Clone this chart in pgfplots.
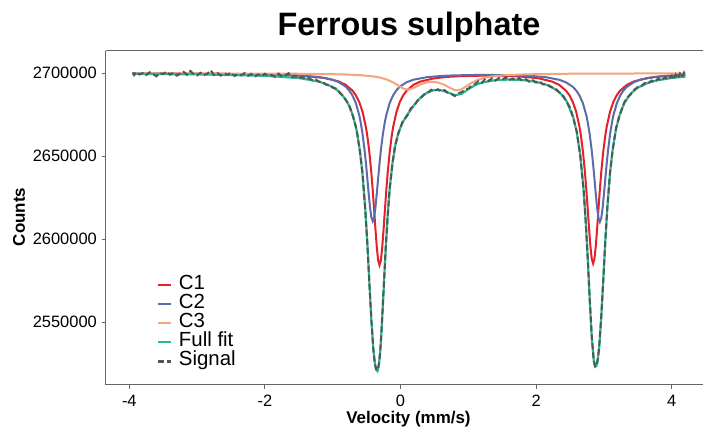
\documentclass[border=0pt]{standalone}
\usepackage{fontspec}
\setmainfont{Liberation Sans}
\usepackage{pgfplots}
\pgfplotsset{compat=1.18}
\definecolor{cone}{RGB}{230,32,40}
\definecolor{ctwo}{RGB}{92,108,170}
\definecolor{cthree}{RGB}{244,165,122}
\definecolor{cfull}{RGB}{35,187,150}
\definecolor{csig}{RGB}{85,85,85}
\definecolor{axgray}{RGB}{100,100,100}
\begin{document}
\begin{tikzpicture}
\path[use as bounding box] (-106bp,-43.5bp) rectangle (597bp,384.5bp);
\begin{axis}[
  at={(0bp,0bp)}, anchor=south west,
  scale only axis, width=597bp, height=333.5bp,
  xmin=-4.344, xmax=4.461, ymin=2512530, ymax=2713434,
  axis lines=left, axis line style={-, draw=axgray, line width=1bp},
  tick align=outside, major tick length=4bp,
  tick style={draw=axgray, line width=1bp},
  xtick={-4,-2,0,2,4}, ytick={2550000,2600000,2650000,2700000},
  scaled y ticks=false,
  /pgf/number format/assume math mode=true,
  yticklabel style={/pgf/number format/fixed, /pgf/number format/1000 sep={},
    font=\fontsize{16.5}{18}\selectfont, anchor=east, inner sep=0pt, xshift=-5bp},
  xticklabel style={font=\fontsize{16.5}{18}\selectfont, anchor=north, inner sep=0pt, yshift=-6bp},
  legend style={at={(0.085,0.328)}, anchor=north west, draw=none, fill=none,
    inner sep=0pt, outer sep=0pt, row sep=0pt,
    font=\fontsize{20.5}{19}\selectfont,
    nodes={inner sep=0pt, text height=14bp, text depth=5.2bp},
    /tikz/every odd column/.style={column sep=7bp}},
  legend image code/.code={\draw[#1, line width=2.2bp] (0bp,0bp) -- (13bp,0bp);},
  legend cell align=left,
]
% C1
\addplot[draw=cone, line width=2bp] coordinates {
(-3.95,2699825) (-3.0,2699699) (-2.0,2699296) (-1.5,2698646) (-1.11,2697139)
(-0.91,2695072) (-0.81,2693084) (-0.71,2689596) (-0.66,2686813) (-0.61,2682795)
(-0.56,2676782) (-0.51,2667444) (-0.49,2662309) (-0.46,2652567) (-0.43,2639803)
(-0.41,2629485) (-0.39,2617990) (-0.37,2606068) (-0.35,2595174) (-0.33,2587337)
(-0.31,2584451) (-0.29,2587335) (-0.27,2595170) (-0.25,2606062) (-0.23,2617982)
(-0.21,2629474) (-0.19,2639790) (-0.16,2652551) (-0.13,2662289) (-0.11,2667422)
(-0.06,2676755) (-0.01,2682762) (0.04,2686773) (0.09,2689549) (0.19,2693024)
(0.29,2694994) (0.49,2696930) (0.69,2697840) (0.89,2698294) (1.19,2698551)
(1.54,2698427) (1.84,2697851) (2.04,2696952) (2.24,2694964) (2.34,2693008)
(2.44,2689563) (2.49,2686811) (2.54,2682835) (2.59,2676880) (2.64,2667629)
(2.66,2662540) (2.69,2652889) (2.72,2640238) (2.74,2630013) (2.76,2618621)
(2.78,2606805) (2.80,2596008) (2.82,2588242) (2.84,2585384) (2.86,2588246)
(2.88,2596016) (2.90,2606817) (2.92,2618637) (2.94,2630033) (2.96,2640262)
(2.99,2652918) (3.02,2662576) (3.04,2667669) (3.09,2676928) (3.14,2682892)
(3.19,2686877) (3.24,2689638) (3.34,2693101) (3.44,2695076) (3.64,2697162)
(3.84,2698135) (4.0,2698590) (4.2,2698953)
};
\addlegendentry{C1}
% C2
\addplot[draw=ctwo, line width=2bp] coordinates {
(-3.95,2699860) (-3.0,2699753) (-2.0,2699396) (-1.6,2698961) (-1.21,2697801)
(-1.01,2696212) (-0.91,2694678) (-0.81,2691987) (-0.76,2689841) (-0.71,2686742)
(-0.66,2682104) (-0.61,2674902) (-0.59,2670940) (-0.56,2663428) (-0.53,2653583)
(-0.51,2645626) (-0.49,2636760) (-0.47,2627566) (-0.45,2619164) (-0.43,2613120)
(-0.41,2610894) (-0.39,2613118) (-0.37,2619161) (-0.35,2627562) (-0.33,2636754)
(-0.31,2645618) (-0.29,2653573) (-0.26,2663416) (-0.23,2670926) (-0.21,2674886)
(-0.16,2682083) (-0.11,2686717) (-0.06,2689811) (-0.01,2691953) (0.09,2694635)
(0.19,2696158) (0.39,2697667) (0.59,2698379) (0.79,2698744) (1.09,2698979)
(1.3,2699011) (1.64,2698852) (1.94,2698374) (2.14,2697658) (2.34,2696098)
(2.44,2694567) (2.54,2691875) (2.59,2689724) (2.64,2686616) (2.69,2681962)
(2.74,2674733) (2.76,2670755) (2.79,2663212) (2.82,2653326) (2.84,2645335)
(2.86,2636432) (2.88,2627198) (2.90,2618759) (2.92,2612690) (2.94,2610456)
(2.96,2612692) (2.98,2618763) (3.00,2627204) (3.02,2636440) (3.04,2645345)
(3.06,2653338) (3.09,2663227) (3.12,2670773) (3.14,2674753) (3.19,2681987)
(3.24,2686647) (3.29,2689760) (3.34,2691916) (3.44,2694620) (3.54,2696161)
(3.74,2697791) (3.94,2698552) (4.2,2699064)
};
\addlegendentry{C2}
% C3
\addplot[draw=cthree, line width=2bp] coordinates {
(-3.95,2699949) (-3.0,2699917) (-2.0,2699831) (-1.5,2699727) (-1.0,2699477)
(-0.8,2699265) (-0.6,2698887) (-0.4,2698112) (-0.3,2697391) (-0.2,2696225)
(-0.1,2694338) (0.0,2691768) (0.05,2690664) (0.1,2690163) (0.15,2690456)
(0.2,2691344) (0.3,2693416) (0.4,2694629) (0.47,2694842) (0.55,2694467)
(0.64,2693208) (0.74,2690980) (0.79,2690027) (0.84,2689707) (0.89,2690224)
(0.94,2691383) (1.04,2694081) (1.14,2696064) (1.24,2697287) (1.34,2698040)
(1.54,2698850) (1.84,2699368) (2.5,2699739) (3.2,2699862) (4.2,2699928)
};
\addlegendentry{C3}
% Full fit
\addplot[draw=cfull, line width=2.2bp] coordinates {
(-3.95,2699634) (-3.0,2699369) (-2.0,2698523) (-1.5,2697147) (-1.2,2695011)
(-1.0,2691788) (-0.9,2688784) (-0.8,2683712) (-0.75,2679758) (-0.7,2674190)
(-0.65,2666046) (-0.6,2653691) (-0.56,2639003) (-0.52,2618065) (-0.49,2597613)
(-0.46,2574157) (-0.43,2551202) (-0.40,2533438) (-0.38,2525745) (-0.36,2521405)
(-0.34,2520606) (-0.32,2524038) (-0.30,2532319) (-0.28,2545081) (-0.25,2569099)
(-0.22,2593360) (-0.19,2614044) (-0.16,2630217) (-0.12,2645707) (-0.08,2656103)
(-0.03,2664412) (0.03,2670374) (0.1,2675008) (0.2,2680899) (0.3,2685612)
(0.4,2688573) (0.5,2689888) (0.6,2689792) (0.7,2688392) (0.8,2686783)
(0.9,2687587) (1.0,2690416) (1.1,2692873) (1.2,2694430) (1.4,2695877)
(1.6,2696239) (1.8,2695943) (2.0,2694902) (2.2,2692456) (2.35,2688424)
(2.45,2683186) (2.55,2673118) (2.6,2664328) (2.65,2650837) (2.7,2629597)
(2.73,2611569) (2.76,2589195) (2.79,2564189) (2.82,2541394) (2.85,2526920)
(2.87,2523249) (2.89,2523782) (2.91,2527862) (2.93,2535315) (2.96,2552794)
(2.99,2575547) (3.02,2598861) (3.05,2619201) (3.09,2640007) (3.13,2654597)
(3.18,2666839) (3.23,2674886) (3.3,2682078) (3.4,2688004) (3.5,2691391)
(3.65,2694267) (3.8,2695878) (4.0,2697208) (4.2,2697945)
};
\addlegendentry{Full fit}
% Signal
\addplot[draw=csig, line width=2bp, dash pattern=on 6bp off 3bp] coordinates {
(-3.95,2700500) (-3.93,2698900) (-3.90,2700800) (-3.85,2699300) (-3.80,2700200)
(-3.75,2699000) (-3.70,2700600) (-3.65,2699500) (-3.60,2698200) (-3.55,2700100)
(-3.50,2699600) (-3.45,2701000) (-3.40,2699200) (-3.35,2700300) (-3.30,2698600)
(-3.25,2699800) (-3.20,2700900) (-3.15,2699100) (-3.10,2701400) (-3.05,2699400)
(-3.00,2698700) (-2.95,2700300) (-2.90,2698900) (-2.85,2699700) (-2.80,2701800)
(-2.75,2699000) (-2.70,2700200) (-2.65,2698600) (-2.60,2699900) (-2.55,2699100)
(-2.50,2700400) (-2.45,2698400) (-2.40,2699500) (-2.35,2698800) (-2.30,2700100)
(-2.25,2698500) (-2.20,2699600) (-2.15,2697900) (-2.10,2699300) (-2.05,2698200)
(-2.00,2699700) (-1.95,2698300) (-1.90,2699000) (-1.85,2697800) (-1.80,2699800)
(-1.75,2698100) (-1.70,2698900) (-1.65,2700000) (-1.60,2697600) (-1.55,2698400)
(-1.50,2696900) (-1.45,2697800) (-1.40,2696400) (-1.35,2697100) (-1.30,2695800)
(-1.25,2696300) (-1.20,2694800) (-1.15,2694900) (-1.10,2693200) (-1.05,2692900)
(-1.00,2691300) (-0.95,2690800) (-0.90,2688300) (-0.85,2686500) (-0.80,2683400)
(-0.75,2679900) (-0.70,2673800) (-0.65,2666600) (-0.60,2653200) (-0.56,2639500)
(-0.52,2617600) (-0.49,2598000) (-0.46,2573800) (-0.43,2551500) (-0.40,2533000)
(-0.38,2525300) (-0.36,2521800) (-0.34,2521000) (-0.32,2524500) (-0.30,2532000)
(-0.28,2545400) (-0.25,2568700) (-0.22,2593800) (-0.19,2613700) (-0.16,2630600)
(-0.12,2645300) (-0.08,2656500) (-0.03,2664000) (0.03,2670800) (0.10,2674600)
(0.15,2678900) (0.20,2680300) (0.25,2683600) (0.30,2685100) (0.35,2687400)
(0.40,2688000) (0.45,2690100) (0.50,2689300) (0.55,2690400) (0.60,2689200)
(0.65,2689900) (0.70,2688000) (0.75,2687600) (0.80,2686300) (0.85,2687900)
(0.90,2688600) (0.95,2690200) (1.00,2690800) (1.05,2692600) (1.10,2693500)
(1.15,2695300) (1.20,2694200) (1.25,2696700) (1.30,2695400) (1.35,2697000)
(1.40,2695600) (1.45,2697200) (1.50,2696100) (1.55,2697600) (1.60,2695700)
(1.65,2696800) (1.70,2695900) (1.75,2697100) (1.80,2695300) (1.85,2696400)
(1.90,2694900) (1.95,2695800) (2.00,2694400) (2.05,2695200) (2.10,2693300)
(2.15,2693600) (2.20,2692100) (2.25,2691200) (2.30,2690300) (2.35,2688000)
(2.40,2686400) (2.45,2682800) (2.50,2679300) (2.55,2672700) (2.60,2664800)
(2.65,2650500) (2.70,2629900) (2.73,2611200) (2.76,2589600) (2.79,2563800)
(2.82,2541700) (2.85,2526500) (2.87,2523600) (2.89,2523400) (2.91,2528200)
(2.93,2535000) (2.96,2553100) (2.99,2575200) (3.02,2599200) (3.05,2618800)
(3.09,2640400) (3.13,2654200) (3.18,2667300) (3.23,2674500) (3.30,2682500)
(3.35,2685800) (3.40,2687500) (3.45,2690200) (3.50,2691700) (3.55,2692300)
(3.60,2694100) (3.65,2693700) (3.70,2695600) (3.75,2694800) (3.80,2696900)
(3.85,2695500) (3.90,2697600) (3.95,2696200) (4.00,2698500) (4.03,2696300)
(4.06,2699200) (4.09,2697000) (4.12,2699800) (4.15,2697400) (4.18,2700300)
(4.20,2698200)
};
\addlegendentry{Signal}
\end{axis}
\draw[axgray, line width=1bp] (0bp,333.5bp) -- (597bp,333.5bp);
\node[font=\bfseries\fontsize{32.5}{36}\selectfont, anchor=base] at (303bp,348.5bp) {Ferrous sulphate};
\node[font=\bfseries\fontsize{17}{20}\selectfont, anchor=base] at (302.5bp,-39bp) {Velocity (mm/s)};
\node[font=\bfseries\fontsize{17}{20}\selectfont, rotate=90, anchor=center] at (-87bp,167.5bp) {Counts};
\end{tikzpicture}
\end{document}
